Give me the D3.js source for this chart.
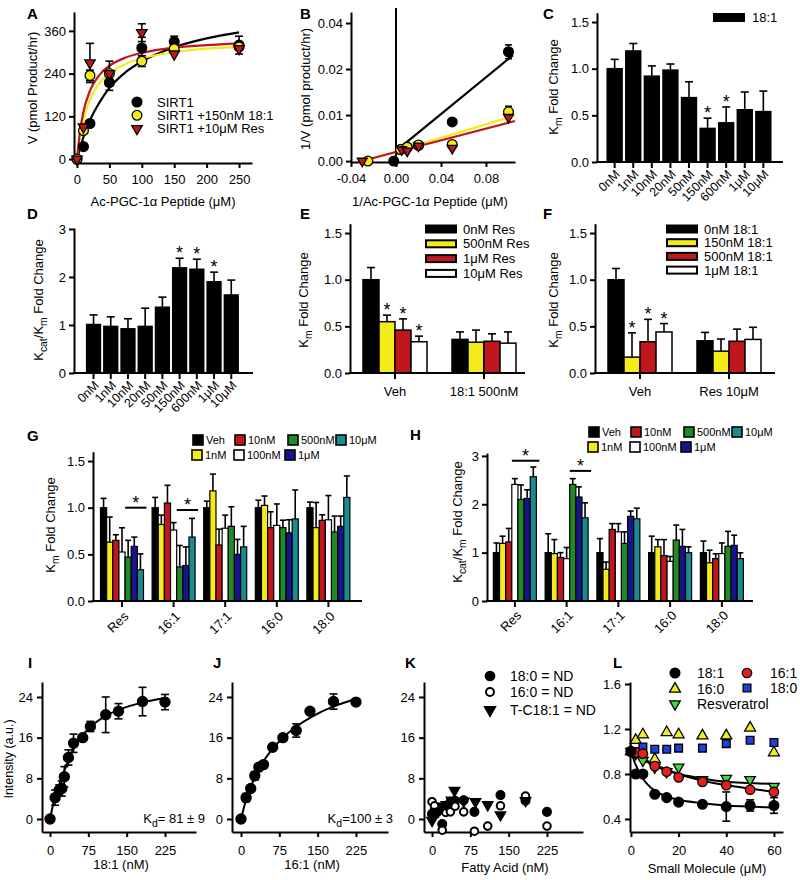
<!DOCTYPE html>
<html><head><meta charset="utf-8">
<script src="https://cdn.jsdelivr.net/npm/d3@7"></script>
<style>
body{margin:0;background:#fff;}
svg{display:block;font-family:"Liberation Sans",Arial,Helvetica,sans-serif;}
</style></head><body>
<svg id="fig" width="800" height="880"></svg>
<script>
// ================= DATA =================
// Panel A: Michaelis-Menten
const aConc = [0,10,20,50,100,150,250];
const aSirt1 = [0,35,100,215,312,330,320];
const aSirt1Err = [0,0,0,22,30,15,25];
const a181 = [0,80,235,240,275,310,315];
const a181Err = [0,0,15,0,15,0,0];
const aRes = [0,90,270,240,355,295,310];
const aResErr = [0,0,55,35,25,0,0];
const aFitX = [0,5,10,20,35,50,75,100,150,200,250];
const aFitSirt1 = [0,32,62,109,160,200,244,274,314,339,356];
const aFit181 = [0,66,110,167,214,241,267,283,300,310,315];
const aFitRes = [0,82,133,192,237,262,285,298,313,320,325];
const aLegend = ["SIRT1","SIRT1 +150nM 18:1","SIRT1 +10\u03BCM Res"];

// Panel B: Lineweaver-Burk
const bInvS = [-0.002,0.004,0.01,0.02,0.05,0.1];
const bSirt1 = [0,0.0025,0.003,0.0034,0.0085,0.0275];
const bSirt1Err = [0,0,0,0,0,0.003];
const b181X = [-0.025,0.004,0.01,0.02,0.05,0.1];
const b181 = [0,0.0025,0.003,0.0035,0.0036,0.0107];
const b181Err = [0,0,0,0,0,0.0012];
const bResX = [-0.03,0.005,0.01,0.02,0.05,0.1];
const bRes = [0,0.0025,0.0022,0.0033,0.0028,0.0095];
const bLineSirt1 = [[0.003,0.0028],[0.104,0.026]];
const bLine181 = [[-0.031,-0.0002],[0.1058,0.0099]];
const bLineRes = [[-0.034,-0.0002],[0.1058,0.0087]];

// Panel C / D
const doseCats = ["0nM","1nM","10nM","20nM","50nM","150nM","600nM","1\u03BCM","10\u03BCM"];
const cVals = [1.0,1.19,0.92,0.985,0.69,0.36,0.42,0.56,0.54];
const cErr = [0.1,0.08,0.11,0.065,0.17,0.11,0.17,0.19,0.22];
const cSig = [0,0,0,0,0,1,1,0,0];
const dVals = [1.01,0.97,0.92,0.97,1.37,2.19,2.16,1.9,1.625];
const dErr = [0.2,0.2,0.21,0.38,0.21,0.2,0.21,0.2,0.31];
const dSig = [0,0,0,0,0,1,1,1,0];

// Panel E
const eGroups = ["Veh","18:1 500nM"];
const eSeries = ["0nM Res","500nM Res","1\u03BCM Res","10\u03BCM Res"];
const eVals = [[1.0,0.55,0.46,0.335],[0.36,0.33,0.34,0.32]];
const eErr = [[0.13,0.07,0.12,0.06],[0.08,0.13,0.08,0.12]];
const eSig = [[0,1,1,1],[0,0,0,0]];

// Panel F
const fGroups = ["Veh","Res 10\u03BCM"];
const fSeries = ["0nM 18:1","150nM 18:1","500nM 18:1","1\u03BCM 18:1"];
const fVals = [[1.0,0.17,0.335,0.44],[0.345,0.234,0.34,0.36]];
const fErr = [[0.12,0.26,0.24,0.09],[0.09,0.13,0.13,0.13]];
const fSig = [[0,1,1,1],[0,0,0,0]];

// Panels G / H
const ghGroups = ["Res","16:1","17:1","16:0","18:0"];
const ghSeries = ["Veh","1nM","10nM","100nM","500nM","1\u03BCM","10\u03BCM"];
const gVals = [
  [1.0,0.63,0.65,0.525,0.47,0.585,0.335],
  [1.0,0.82,1.05,0.76,0.365,0.38,0.685],
  [1.0,1.18,0.6,0.78,0.8,0.5,0.58],
  [1.0,1.025,0.786,0.81,0.786,0.73,0.88],
  [1.0,0.786,0.864,0.87,0.74,0.8,1.11]];
const gErr = [
  [0.1,0.27,0.06,0.26,0.18,0.1,0.17],
  [0.11,0.1,0.19,0.08,0.23,0.2,0.2],
  [0.07,0.18,0.17,0.14,0.21,0.16,0.22],
  [0.08,0.1,0.17,0.23,0.08,0.14,0.31],
  [0.06,0.27,0.06,0.26,0.17,0.11,0.23]];
const gSigLines = [["Res","500nM","10\u03BCM",1.0],["16:1","500nM","10\u03BCM",0.975]];
const hVals = [
  [1.0,1.19,1.22,2.41,2.1,2.12,2.57],
  [1.0,0.98,0.9,0.876,2.41,2.15,1.72],
  [1.0,0.655,1.48,1.43,1.19,1.75,1.7],
  [1.0,1.12,0.94,0.82,1.26,1.13,1.0],
  [1.0,0.79,0.876,0.98,1.13,1.15,0.876]];
const hErr = [
  [0.2,0.15,0.28,0.12,0.3,0.18,0.2],
  [0.39,0.29,0.1,0.23,0.12,0.21,0.31],
  [0.29,0.15,0.12,0.17,0.24,0.11,0.22],
  [0.34,0.15,0.33,0.1,0.31,0.35,0.12],
  [0.24,0.26,0.1,0.22,0.31,0.21,0.12]];
const hSigLines = [["Res","100nM","10\u03BCM",2.9],["16:1","500nM","10\u03BCM",2.69]];

// Panel I / J binding
const iX = [0,10,18,23,28,36,46,64,79,109,134,181,225];
const iY = [0,4.2,5.7,6.0,8.3,12.1,14.9,16.0,18.2,20.5,21.2,23.1,23.0];
const iErr = [0,1.5,1.0,1.5,2.0,1.5,1.8,0.5,1.0,3.5,1.5,2.8,1.5];
const iFitX = [0,10,20,30,45,60,80,110,140,180,225];
const iFitY = [0,4.5,7.3,10,13.6,16,18.2,20.3,21.7,22.9,23.8];
const jX = [0,10,19,27,35,44,62,82,108,135,181,225];
const jY = [0,4.2,6.0,8.5,10.2,10.7,14.1,16.0,17.4,21.2,23.1,23.0];
const jErr = [0,0.8,0.6,0.8,0.6,0.6,0.6,0.6,1.3,0.6,1.5,0.7];
const jFitX = [0,10,20,30,45,60,80,110,140,180,225];
const jFitY = [0,3.8,6.5,8.8,11.5,13.6,15.8,18.3,20.2,22.1,23.6];

// Panel K (not detected)
const k180X = [0,5,10,20,27,35,45,62,83,134,183,225];
const k180Y = [1.0,1.6,1.9,-1.0,2.3,3.2,3.6,3.7,1.4,4.7,3.6,1.4];
const k160X = [0,5,10,20,27,36,45,62,83,109,134,183,225];
const k160Y = [3.4,2.6,1.3,-2.2,1.3,1.4,2.5,1.4,-2.4,-1.4,2.6,4.5,-1.4];
const kTX = [0,5,12,20,28,38,44,62,85,109,134,183];
const kTY = [-0.3,0.8,1.5,2.5,2.8,3.7,5.6,3.5,3.4,2.8,0.8,3.6];
const kLegend = ["18:0 = ND","16:0 = ND","T-C18:1 = ND"];

// Panel L
const lX = [0,2,5,10,15,20,30,40,50,60];
const l181 = [1.0,0.8,0.8,0.62,0.59,0.55,0.53,0.51,0.52,0.52];
const l181Err = [0,0,0,0,0,0.02,0,0.13,0.05,0.07];
const l161 = [1.0,0.99,0.98,0.87,0.82,0.77,0.73,0.7,0.66,0.64];
const l160 = [1.0,1.1,1.15,0.93,1.17,1.15,1.14,1.14,1.21,0.99];
const l180 = [1.0,1.0,1.04,1.02,1.02,1.03,1.03,1.07,1.1,1.08];
const lResv = [1.0,0.98,0.92,0.86,0.82,0.86,0.75,0.76,0.75,0.69];
const lFitX = [0,2,5,10,15,20,30,40,50,60];
const lFit181 = [1.0,0.88,0.76,0.65,0.6,0.57,0.54,0.52,0.51,0.5];
const lFit161 = [1.0,0.98,0.94,0.88,0.84,0.8,0.74,0.7,0.67,0.64];
const lFitResv = [1.0,0.97,0.93,0.87,0.83,0.8,0.76,0.73,0.72,0.71];

// ================= STYLE =================
const COL = {black:"#000", yellow:"#f4ec1a", red:"#c0161d", white:"#fff", green:"#1f8b24", blue:"#15158f", teal:"#1a8b90",
  lYellow:"#eeee22", lRed:"#e3201b", lBlue:"#1f3fd8", lGreen:"#40d840"};
const FS = 13;
const svg = d3.select("#fig");

function styleAxis(g, fs) {
  g.select(".domain").attr("stroke","#000").attr("stroke-width",2);
  g.selectAll(".tick line").attr("stroke","#000").attr("stroke-width",2);
  g.selectAll(".tick text").attr("fill","#000").attr("font-size",fs||FS)
    .attr("font-family",'"Liberation Sans",Arial,sans-serif');
}
function yAxis(scale, x, ticks, fmt, pad) {
  const g = svg.append("g").attr("transform",`translate(${x},0)`)
    .call(d3.axisLeft(scale).tickValues(ticks).tickFormat(fmt).tickSize(5).tickSizeOuter(0).tickPadding(pad==null?3:pad));
  styleAxis(g); return g;
}
function xAxis(scale, y, ticks, fmt, pad) {
  const g = svg.append("g").attr("transform",`translate(0,${y})`)
    .call(d3.axisBottom(scale).tickValues(ticks).tickFormat(fmt).tickSize(5).tickSizeOuter(0).tickPadding(pad==null?7:pad));
  styleAxis(g); return g;
}
function hline(x1,x2,y){ svg.append("line").attr("x1",x1).attr("x2",x2).attr("y1",y).attr("y2",y).attr("stroke","#000").attr("stroke-width",2); }
function letter(t,x,y){ svg.append("text").attr("x",x).attr("y",y).attr("font-size",15).attr("font-weight","bold").text(t); }
function text(t,x,y,opt){ opt=opt||{}; return svg.append("text").attr("x",x).attr("y",y).attr("font-size",opt.fs||FS)
  .attr("text-anchor",opt.anchor||"start").text(t); }
function yTitle(x,y,parts,fs){
  const t = svg.append("text").attr("transform",`translate(${x},${y}) rotate(-90)`).attr("text-anchor","middle").attr("font-size",fs||FS);
  parts.forEach(p=>{
    const ts = t.append("tspan").text(p[0]);
    if (p[1]==="sub") ts.attr("font-size",(fs||FS)*0.8).attr("dy",4);
    if (p[1]==="up") ts.attr("dy",-4);
  });
  return t;
}
function marker(x,y,kind,fill,size){
  size = size||78;
  let t = d3.symbolCircle, rot = 0;
  if (kind==="down"){ t=d3.symbolTriangle; rot=180; }
  if (kind==="up"){ t=d3.symbolTriangle; }
  if (kind==="square"){ t=d3.symbolSquare; }
  svg.append("path").attr("d",d3.symbol().type(t).size(size)())
    .attr("transform",`translate(${x},${y}) rotate(${rot})`)
    .attr("fill",fill).attr("stroke","#000").attr("stroke-width",kind==="open"?2:1.3);
}
function errBar(x,y1,y2,cap,both){
  svg.append("line").attr("x1",x).attr("x2",x).attr("y1",y1).attr("y2",y2).attr("stroke","#000").attr("stroke-width",1.6);
  svg.append("line").attr("x1",x-cap/2).attr("x2",x+cap/2).attr("y1",y2).attr("y2",y2).attr("stroke","#000").attr("stroke-width",1.6);
  if (both) svg.append("line").attr("x1",x-cap/2).attr("x2",x+cap/2).attr("y1",y1).attr("y2",y1).attr("stroke","#000").attr("stroke-width",1.6);
}
function star(x,y){ svg.append("text").attr("x",x).attr("y",y).attr("text-anchor","middle").attr("font-size",18).text("*"); }
function rotLabels(g, dx, dy){
  g.selectAll(".tick text").attr("y",0).attr("dy","0.35em").attr("text-anchor","end")
    .attr("transform",`translate(${dx},${dy}) rotate(-45)`);
}

// ================= PANEL A =================
{
  const x = d3.scaleLinear().domain([-4.6,270]).range([74,252]);
  const y = d3.scaleLinear().domain([-11,413]).range([163,12]);
  yAxis(y,74,[0,120,240,360],d3.format("d"));
  xAxis(x,163,[0,50,100,150,200,250],d3.format("d"));
  const line = d3.line().x((d,i)=>x(aFitX[i])).y(d=>y(d)).curve(d3.curveMonotoneX);
  [[aFitSirt1,"#000"],[aFit181,COL.yellow],[aFitRes,COL.red]].forEach(([s,c])=>{
    svg.append("path").attr("d",line(s)).attr("fill","none").attr("stroke",c).attr("stroke-width",2.2);
  });
  const sets = [[aSirt1,aSirt1Err,"circle","#000"],[a181,a181Err,"circle",COL.yellow],[aRes,aResErr,"down",COL.red]];
  sets.forEach(([v,e])=>v.forEach((d,i)=>{ if(e[i]>0) errBar(x(aConc[i]),y(d-e[i]),y(d+e[i]),8,true); }));
  sets.forEach(([v,e,k,c])=>v.forEach((d,i)=>marker(x(aConc[i]),y(d),k,c,k==="down"?48:75)));
  text("Ac-PGC-1\u03B1 Peptide (\u03BCM)",163,206,{anchor:"middle"});
  yTitle(37,88,[["V (pmol Product/hr)"]]);
  const leg = [["circle","#000"],["circle",COL.yellow],["down",COL.red]];
  leg.forEach((l,i)=>{ marker(137,102+i*13.3,l[0],l[1],l[0]==="down"?48:75); text(aLegend[i],157,106.5+i*13.3); });
  letter("A",27,19);
}

// ================= PANEL B =================
{
  const x = d3.scaleLinear().domain([-0.04,0.1058]).range([351,515]);
  const y = d3.scaleLinear().domain([-0.0002,0.02,0.0448]).range([162,69,12]);
  const f2 = d=>d3.format(".2f")(d).replace("\u2212","-");
  yAxis(y,351,[0,0.01,0.02,0.04],f2);
  xAxis(x,162,[-0.04,0,0.04,0.08],f2);
  svg.append("line").attr("x1",x(0)).attr("x2",x(0)).attr("y1",162).attr("y2",8).attr("stroke","#000").attr("stroke-width",2);
  const ln = d3.line().x(d=>x(d[0])).y(d=>y(d[1]));
  [[bLineSirt1,"#000"],[bLine181,COL.yellow],[bLineRes,COL.red]].forEach(([p,c])=>
    svg.append("path").attr("d",ln(p)).attr("stroke",c).attr("stroke-width",2.2).attr("fill","none"));
  bSirt1.forEach((d,i)=>{ if(bSirt1Err[i]) errBar(x(bInvS[i]),y(d-bSirt1Err[i]),y(d+bSirt1Err[i]),7,true); });
  b181.forEach((d,i)=>{ if(b181Err[i]) errBar(x(b181X[i]),y(d-b181Err[i]),y(d+b181Err[i]),7,true); });
  bSirt1.forEach((d,i)=>marker(x(bInvS[i]),y(d),"circle","#000",75));
  b181.forEach((d,i)=>marker(x(b181X[i]),y(d),"circle",COL.yellow,75));
  bRes.forEach((d,i)=>marker(x(bResX[i]),y(d),"down",COL.red,42));
  text("1/Ac-PGC-1\u03B1 Peptide (\u03BCM)",430,206,{anchor:"middle"});
  yTitle(310,89,[["1/V (pmol product/hr)"]]);
  letter("B",300,19);
}

// ================= PANEL C & D =================
function simpleBars(cats, vals, errs, sig, xr, y, axX, axEnd, y0){
  const x = d3.scaleBand().domain(cats).range(xr).padding(0.2);
  cats.forEach((c,i)=>{
    const cx = x(c)+x.bandwidth()/2;
    errBar(cx,y(vals[i]),y(vals[i]+errs[i]),8,false);
    svg.append("rect").attr("x",x(c)).attr("y",y(vals[i])).attr("width",x.bandwidth()).attr("height",y(0)-y(vals[i]))
      .attr("fill","#000").attr("stroke","#000").attr("stroke-width",1.5);
    if (sig[i]) star(cx,y(vals[i]+errs[i])+1);
  });
  const g = svg.append("g").attr("transform",`translate(0,${y0})`).call(d3.axisBottom(x).tickSize(6).tickSizeOuter(0));
  g.select(".domain").remove(); styleAxis(g, 12.5);
  rotLabels(g,3,10);
  hline(axX,axEnd,y0);
}
{
  const y = d3.scaleLinear().domain([0,1.6]).range([162,12.7]);
  yAxis(y,597,[0,0.5,1.0,1.5],d3.format(".1f"));
  simpleBars(doseCats,cVals,cErr,cSig,[603.5,774.5],y,596,783,162);
  svg.append("rect").attr("x",713).attr("y",13).attr("width",32).attr("height",9).attr("fill","#000");
  text("18:1",752,22);
  yTitle(558,87,[["K"],["m","sub"],[" Fold Change","up"]]);
  letter("C",543,19);
}
{
  const y = d3.scaleLinear().domain([0,3.02]).range([373,228]);
  yAxis(y,74,[0,1,2,3],d3.format("d"));
  simpleBars(doseCats,dVals,dErr,dSig,[83.2,241.6],y,73,253,373);
  yTitle(43,300,[["K"],["cat","sub"],["/K","up"],["m","sub"],[" Fold Change","up"]]);
  letter("D",27,219);
}

// ================= GROUPED BARS =================
function groupedBars(o){
  const x0 = d3.scaleBand().domain(o.groups).range(o.xr).padding(0);
  const x1 = d3.scaleBand().domain(o.series).range(o.inner).padding(0);
  o.groups.forEach((gname,gi)=>{
    o.series.forEach((s,si)=>{
      const v=o.vals[gi][si], e=o.errs[gi][si];
      const left = x0(gname)+x0.bandwidth()/2+x1(s);
      const cx = left + x1.bandwidth()/2;
      errBar(cx,o.y(v),o.y(v+e),o.cap,false);
      svg.append("rect").attr("x",left).attr("y",o.y(v)).attr("width",x1.bandwidth()).attr("height",o.y(0)-o.y(v))
        .attr("fill",o.colors[si]).attr("stroke","#000").attr("stroke-width",o.sw||1.5);
      if (o.sig && o.sig[gi][si]) star(cx,o.y(v+e)+1);
    });
  });
  const g = svg.append("g").attr("transform",`translate(0,${o.y(0)})`).call(d3.axisBottom(x0).tickSize(6).tickSizeOuter(0).tickPadding(8));
  g.select(".domain").remove(); styleAxis(g, o.fs||FS);
  if (o.rot) rotLabels(g,o.rot[0],o.rot[1]);
  hline(o.axX,o.axEnd,o.y(0));
  if (o.sigLines) o.sigLines.forEach(([gn,a,b,v])=>{
    const base = x0(gn)+x0.bandwidth()/2;
    const xa = base+x1(a)+x1.bandwidth()/2-3, xb = base+x1(b)+x1.bandwidth()+3;
    svg.append("line").attr("x1",xa).attr("x2",xb).attr("y1",o.y(v)).attr("y2",o.y(v)).attr("stroke","#000").attr("stroke-width",2);
    star((xa+xb)/2,o.y(v)+1);
  });
  return {x0,x1};
}
function boxLegend(x,y0,dy,names,colors,w,h,fs){
  names.forEach((n,i)=>{
    svg.append("rect").attr("x",x).attr("y",y0+i*dy-h/2).attr("width",w).attr("height",h)
      .attr("fill",colors[i]).attr("stroke","#000").attr("stroke-width",2);
    text(n,x+w+7,y0+i*dy+fs*0.36,{fs:fs});
  });
}
const fourCols = [COL.black,COL.yellow,COL.red,COL.white];
{
  const y = d3.scaleLinear().domain([0,1.6]).range([373,223.7]);
  yAxis(y,350,[0,0.5,1.0,1.5],d3.format(".1f"));
  groupedBars({groups:eGroups,series:eSeries,colors:fourCols,vals:eVals,errs:eErr,sig:eSig,
    xr:[350.5,528.5],inner:[-32,32],y:y,cap:8,axX:349,axEnd:525});
  boxLegend(426,229,14.8,eSeries,fourCols,30,7,13);
  yTitle(308,300,[["K"],["m","sub"],[" Fold Change","up"]]);
  letter("E",300,219);
}
{
  const y = d3.scaleLinear().domain([0,1.6]).range([373,223.7]);
  yAxis(y,595,[0,0.5,1.0,1.5],d3.format(".1f"));
  groupedBars({groups:fGroups,series:fSeries,colors:fourCols,vals:fVals,errs:fErr,sig:fSig,
    xr:[595.5,773.5],inner:[-32,32],y:y,cap:8,axX:594,axEnd:775});
  boxLegend(667,229,13.7,fSeries,fourCols,30,7,13);
  yTitle(558,300,[["K"],["m","sub"],[" Fold Change","up"]]);
  letter("F",543,219);
}
const sevenCols = [COL.black,COL.yellow,COL.red,COL.white,COL.green,COL.blue,COL.teal];
function ghLegend(dx,dy){
  const pos = [[193,440],[192,455],[235,440],[234,455],[288,440],[285,455],[336,440]];
  ghSeries.forEach((s,i)=>{
    const [px,py] = pos[i];
    svg.append("rect").attr("x",px+dx).attr("y",py+dy-5).attr("width",10).attr("height",10)
      .attr("fill",sevenCols[i]).attr("stroke","#000").attr("stroke-width",1.6);
    text(s,px+dx+13,py+dy+4,{fs:11});
  });
}
{
  const y = d3.scaleLinear().domain([0,1.6]).range([601,451.7]);
  yAxis(y,93,[0,0.5,1.0,1.5],d3.format(".1f"));
  groupedBars({groups:ghGroups,series:ghSeries,colors:sevenCols,vals:gVals,errs:gErr,
    xr:[96.2,354.2],inner:[-21.5,21.5],y:y,cap:6,sw:1.2,axX:92,axEnd:362,rot:[4,13],sigLines:gSigLines});
  ghLegend(0,0);
  yTitle(55,525,[["K"],["m","sub"],[" Fold Change","up"]]);
  letter("G",27,441);
}
{
  const y = d3.scaleLinear().domain([0,3.06]).range([601,453]);
  yAxis(y,487,[0,1,2,3],d3.format("d"));
  groupedBars({groups:ghGroups,series:ghSeries,colors:sevenCols,vals:hVals,errs:hErr,
    xr:[489,747.75],inner:[-21.5,21.5],y:y,cap:6,sw:1.2,axX:486,axEnd:753,rot:[4,12],sigLines:hSigLines});
  ghLegend(396,-8);
  yTitle(462,522,[["K"],["cat","sub"],["/K","up"],["m","sub"],[" Fold Change","up"]]);
  letter("H",410,440);
}

// ================= PANELS I-L =================
const yBind = d3.scaleLinear().domain([-2.56,26.95]).range([832,682]);
function bindPanel(xr, dom, xs, ys, es, fx, fy, kd, kdX, title, titleX){
  const x = d3.scaleLinear().domain(dom).range(xr);
  yAxis(yBind,xr[0],[0,8,16,24],d3.format("d"),4);
  xAxis(x,832,[0,75,150,225],d3.format("d"),9);
  svg.append("path").attr("d",d3.line().x((d,i)=>x(fx[i])).y(d=>yBind(d)).curve(d3.curveMonotoneX)(fy))
    .attr("fill","none").attr("stroke","#000").attr("stroke-width",2);
  xs.forEach((d,i)=>{ if(es[i]>0.7) errBar(x(d),yBind(ys[i]-es[i]),yBind(ys[i]+es[i]),8,true); });
  xs.forEach((d,i)=>marker(x(d),yBind(ys[i]),"circle","#000",80));
  const t = svg.append("text").attr("x",kdX).attr("y",823).attr("text-anchor","end").attr("font-size",FS);
  t.append("tspan").text("K"); t.append("tspan").attr("font-size",10.5).attr("dy",4).text("d");
  t.append("tspan").attr("dy",-4).text(kd);
  text(title,titleX,869,{anchor:"middle"});
  return x;
}
bindPanel([42,196],[-15.7,285.7],iX,iY,iErr,iFitX,iFitY,"= 81 \u00B1 9",205,"18:1 (nM)",121);
yTitle(13,759,[["Intensity (a.u.)"]],12.5);
letter("I",28,668);
bindPanel([232,388],[-17.6,287.7],jX,jY,jErr,jFitX,jFitY,"=100 \u00B1 3",393,"16:1 (nM)",312);
letter("J",213,668);
{
  const x = d3.scaleLinear().domain([-15.7,295.5]).range([424,583]);
  yAxis(yBind,424,[0,8,16,24],d3.format("d"),4);
  xAxis(x,832,[0,75,150,225],d3.format("d"),9);
  k180X.forEach((d,i)=>marker(x(d),yBind(k180Y[i]),"circle","#000",60));
  k160X.forEach((d,i)=>marker(x(d),yBind(k160Y[i]),"open","#fff",45));
  kTX.forEach((d,i)=>marker(x(d),yBind(kTY[i]),"down","#000",48));
  marker(490,676,"circle","#000",70); marker(490,692,"open","#fff",50); marker(490,710,"down","#000",55);
  kLegend.forEach((t,i)=>text(t,510,[681,697,715][i],{fs:14}));
  text("Fatty Acid (nM)",505,872,{anchor:"middle"});
  letter("K",405,668);
}
{
  const x = d3.scaleLinear().domain([-0.4,63.8]).range([630,783]);
  const y = d3.scaleLinear().domain([0.284,1.618]).range([832,682]);
  yAxis(y,630,[0.4,0.8,1.2,1.6],d3.format(".1f"),4);
  xAxis(x,832,[0,20,40,60],d3.format("d"),9);
  const ln = d3.line().x((d,i)=>x(lFitX[i])).y(d=>y(d)).curve(d3.curveMonotoneX);
  [lFit181,lFit161,lFitResv].forEach(s=>svg.append("path").attr("d",ln(s)).attr("fill","none").attr("stroke","#000").attr("stroke-width",2));
  l181.forEach((d,i)=>{ if(l181Err[i]>0.03) errBar(x(lX[i]),y(d-l181Err[i]),y(d+l181Err[i]),8,true); });
  l160.forEach((d,i)=>marker(x(lX[i]),y(d),"up",COL.lYellow,52));
  l180.forEach((d,i)=>marker(x(lX[i]),y(d),"square",COL.lBlue,60));
  lResv.forEach((d,i)=>marker(x(lX[i]),y(d),"down",COL.lGreen,48));
  l161.forEach((d,i)=>marker(x(lX[i]),y(d),"circle",COL.lRed,70));
  l181.forEach((d,i)=>marker(x(lX[i]),y(d),"circle","#000",75));
  marker(675,673,"circle","#000",75); text("18:1",697,678,{fs:14});
  marker(747,673,"circle",COL.lRed,70); text("16:1",770,678,{fs:14});
  marker(675,689,"up",COL.lYellow,52); text("16:0",697,694,{fs:14});
  marker(747,688,"square",COL.lBlue,60); text("18:0",770,693,{fs:14});
  marker(675,704,"down",COL.lGreen,48); text("Resveratrol",697,709,{fs:14});
  text("Small Molecule (\u03BCM)",707,873,{anchor:"middle"});
  letter("L",613,668);
}
</script>
</body></html>
